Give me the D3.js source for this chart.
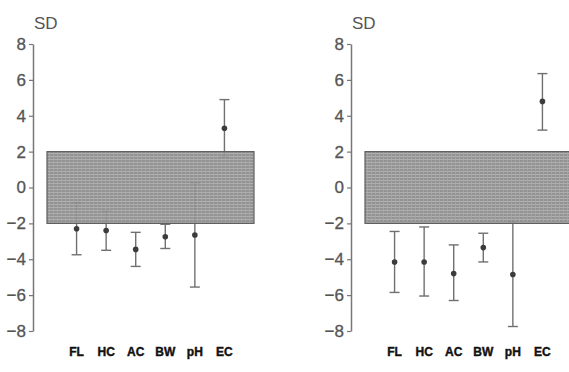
<!DOCTYPE html>
<html>
<head>
<meta charset="utf-8">
<script src="https://cdn.jsdelivr.net/npm/d3@7"></script>
<style>
  body { margin: 0; background: #fff; }
  svg { display: block; }
</style>
</head>
<body>
<div id="chart"></div>
<script>
const categories = ['FL', 'HC', 'AC', 'BW', 'pH', 'EC'];
const yTicks = [8, 6, 4, 2, 0, -2, -4, -6, -8];
const normalBand = [-2, 2];

// left panel
const leftMean = [-2.3, -2.4, -3.45, -2.75, -2.65, 3.3];
const leftLow = [-3.75, -3.5, -4.4, -3.4, -5.55, 1.7];
const leftHigh = [-0.85, -1.3, -2.5, -2.05, 0.25, 4.9];

// right panel
const rightMean = [-4.15, -4.15, -4.8, -3.35, -4.85, 4.8];
const rightLow = [-5.85, -6.05, -6.3, -4.15, -7.75, 3.2];
const rightHigh = [-2.45, -2.2, -3.2, -2.55, -1.9, 6.35];

const width = 569, height = 372;
const font = '"Liberation Sans", Arial, sans-serif';
const svg = d3.select('#chart').append('svg')
    .attr('width', width)
    .attr('height', height);

// texture for the shaded +/-2 SD band
const defs = svg.append('defs');
const pat = defs.append('pattern')
    .attr('id', 'grain')
    .attr('width', 4)
    .attr('height', 3)
    .attr('patternUnits', 'userSpaceOnUse');
pat.append('rect').attr('width', 4).attr('height', 3).attr('fill', '#8a8a8a');
pat.append('path').attr('d', 'M0,0.5H4').attr('stroke', '#b0b0b0').attr('stroke-width', 0.8);
pat.append('path').attr('d', 'M1.5,0V3').attr('stroke', '#a2a2a2').attr('stroke-width', 0.7);

const y = d3.scaleLinear().domain([-8, 8]).range([331, 44]);

function drawPanel(offsetX, mean, low, high) {
  const g = svg.append('g').attr('transform', `translate(${offsetX},0)`);
  const x = d3.scalePoint().domain(categories).range([47, 254]).padding(1);

  // axis
  const axis = g.append('g')
      .attr('transform', 'translate(33,0)')
      .call(d3.axisLeft(y).tickValues(yTicks).tickSize(4).tickSizeOuter(0).tickFormat(d3.format('d')));
  axis.attr('font-family', font).attr('font-size', 17);
  axis.select('.domain').attr('stroke', '#777').attr('stroke-width', 1.5);
  axis.selectAll('.tick line').attr('stroke', '#777').attr('stroke-width', 1.2);
  axis.selectAll('.tick text')
      .attr('fill', '#555')
      .attr('stroke', '#555')
      .attr('stroke-width', 0.3)
      .attr('x', -7);

  g.append('text')
      .attr('x', 34)
      .attr('y', 29)
      .attr('font-family', font)
      .attr('font-size', 17)
      .attr('fill', '#555')
      .text('SD');

  const rows = categories.map((c, i) => ({c, m: mean[i], lo: low[i], hi: high[i]}));
  const capW = 5;

  const bars = g.append('g').selectAll('g').data(rows).join('g');
  bars.append('line')
      .attr('x1', (d) => x(d.c)).attr('x2', (d) => x(d.c))
      .attr('y1', (d) => y(d.hi)).attr('y2', (d) => y(d.lo))
      .attr('stroke', '#707070').attr('stroke-width', 1.4);
  bars.append('line')
      .attr('x1', (d) => x(d.c) - capW).attr('x2', (d) => x(d.c) + capW)
      .attr('y1', (d) => y(d.hi)).attr('y2', (d) => y(d.hi))
      .attr('stroke', '#707070').attr('stroke-width', 1.4);
  bars.append('line')
      .attr('x1', (d) => x(d.c) - capW).attr('x2', (d) => x(d.c) + capW)
      .attr('y1', (d) => y(d.lo)).attr('y2', (d) => y(d.lo))
      .attr('stroke', '#707070').attr('stroke-width', 1.4);

  // shaded normal range, drawn over the bars so they only show faintly inside
  g.append('rect')
      .attr('x', 47)
      .attr('y', y(normalBand[1]))
      .attr('width', 254 - 47)
      .attr('height', y(normalBand[0]) - y(normalBand[1]))
      .attr('fill', 'url(#grain)')
      .attr('fill-opacity', 0.92)
      .attr('stroke', '#5e5e5e')
      .attr('stroke-width', 1.2);

  g.append('g').selectAll('circle').data(rows).join('circle')
      .attr('cx', (d) => x(d.c))
      .attr('cy', (d) => y(d.m))
      .attr('r', 2.8)
      .attr('fill', '#3c3c3c');

  g.append('g').selectAll('text').data(categories).join('text')
      .attr('x', (d) => x(d))
      .attr('y', 356)
      .attr('text-anchor', 'middle')
      .attr('font-family', font)
      .attr('font-weight', 'bold')
      .attr('font-size', 12)
      .attr('fill', '#111')
      .attr('stroke', '#111')
      .attr('stroke-width', 0.4)
      .text((d) => d);
}

drawPanel(0, leftMean, leftLow, leftHigh);
drawPanel(318, rightMean, rightLow, rightHigh);
</script>
</body>
</html>
